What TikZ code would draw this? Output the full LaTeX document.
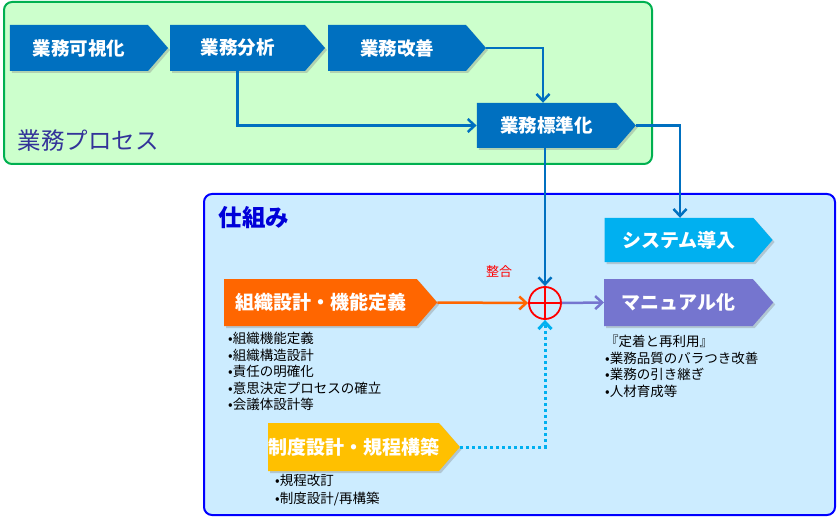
\documentclass[tikz,border=0pt]{standalone}
\usepackage{fontspec}
\setmainfont{Noto Sans CJK JP}
\definecolor{procblue}{RGB}{0,112,192}
\definecolor{procgreen}{RGB}{0,176,80}
\definecolor{procfill}{RGB}{204,255,204}
\definecolor{mechblue}{RGB}{0,0,255}
\definecolor{mechfill}{RGB}{204,236,255}
\definecolor{sysblue}{RGB}{0,176,240}
\definecolor{manpurple}{RGB}{117,117,207}
\definecolor{orgorange}{RGB}{255,102,0}
\definecolor{seigold}{RGB}{255,192,0}
\definecolor{titlenavy}{RGB}{51,51,153}
\usetikzlibrary{shapes.symbols, arrows.meta, positioning, calc, shadows}

\begin{document}
\begin{tikzpicture}[x=1pt, y=-1pt,
  chev/.style={signal, signal to=east, signal pointer angle=98, fill=#1, text=white, inner sep=0pt, minimum height=46pt,
    font=\bfseries\fontsize{18.5}{20}\selectfont, drop shadow={opacity=0.35, shadow xshift=2pt, shadow yshift=-2pt}},
  flow/.style={line width=2.5pt, draw=#1, -{Straight Barb[length=7pt,width=13pt]}},
  notes/.style={align=left, anchor=north west, inner sep=0pt, font=\fontsize{13.5}{16.5}\selectfont}]
  \useasboundingbox[fill=white] (0,0) rectangle (837,521);

  \draw[procgreen, fill=procfill, line width=2pt, rounded corners=8pt] (4,2) rectangle (652,164);
  \draw[mechblue, fill=mechfill, line width=2pt, rounded corners=8pt] (204,194) rectangle (835,515);

  \node[anchor=west, text=titlenavy, font=\fontsize{23.5}{25}\selectfont] (proc) at (14,141) {業務プロセス};
  \node[anchor=west, text=mechblue!85!black, font=\bfseries\fontsize{23.5}{25}\selectfont] (mech) at (215,218) {仕組み};

  \node[chev=procblue, minimum width=158pt] (vis) at (79,48) {業務可視化};
  \node[chev=procblue, minimum width=155pt] (ana) at (237.5,48) {業務分析};
  \node[chev=procblue, minimum width=158pt] (kai) at (397,48) {業務改善};
  \node[chev=procblue, minimum width=159pt, minimum height=45pt] (std) at (546.5,125.5) {業務標準化};

  \node[chev=sysblue, minimum width=168pt, minimum height=44pt, font=\bfseries\fontsize{19}{21}\selectfont] (sys) at (679,240) {システム導入};
  \node[chev=manpurple, minimum width=169pt, minimum height=47pt, font=\bfseries\fontsize{19}{21}\selectfont] (man) at (678.5,302.5) {マニュアル化};
  \node[chev=orgorange, minimum width=213pt, minimum height=47pt, font=\bfseries\fontsize{19}{21}\selectfont] (org) at (320.5,302.5) {組織設計・機能定義};
  \node[chev=seigold, minimum width=183pt, minimum height=48pt, font=\bfseries\fontsize{19}{21}\selectfont] (sei) at (353.5,447) {制度設計・規程構築};

  \node[circle, draw=red, line width=1.8pt, minimum size=32pt, inner sep=0pt,
    path picture={\draw[red, line width=1.8pt] (path picture bounding box.north) -- (path picture bounding box.south)
      (path picture bounding box.west) -- (path picture bounding box.east);}] (mix) at (545,303) {};
  \node[text=red, font=\fontsize{13}{15}\selectfont] (fit) at (499,272) {整合};

  \node[notes] (orglist) at (228,332) {•組織機能定義\\•組織構造設計\\•責任の明確化\\•意思決定プロセスの確立\\•会議体設計等};
  \node[notes] (manlist) at (605,335) {『定着と再利用』\\•業務品質のバラつき改善\\•業務の引き継ぎ\\•人材育成等};
  \node[notes, font=\fontsize{13.5}{17.5}\selectfont] (seilist) at (275,474) {•規程改訂\\•制度設計/再構築};

  \draw[flow=procblue] (kai.east) -| ([xshift=-3.5pt]std.north);
  \draw[flow=procblue] (ana.south) |- (std.west);
  \draw[flow=procblue] (std.east) -| ([xshift=1pt]sys.north);
  \draw[flow=procblue] (std.south -| mix.north) -- (mix.north);
  \draw[flow=orgorange] (org.east) -- (mix.west);
  \draw[flow=manpurple] (mix.east) -- (man.west);
  \draw[flow=sysblue, line width=3pt, dash pattern=on 3pt off 3pt] (sei.east) -| (mix.south);
\end{tikzpicture}
\end{document}
